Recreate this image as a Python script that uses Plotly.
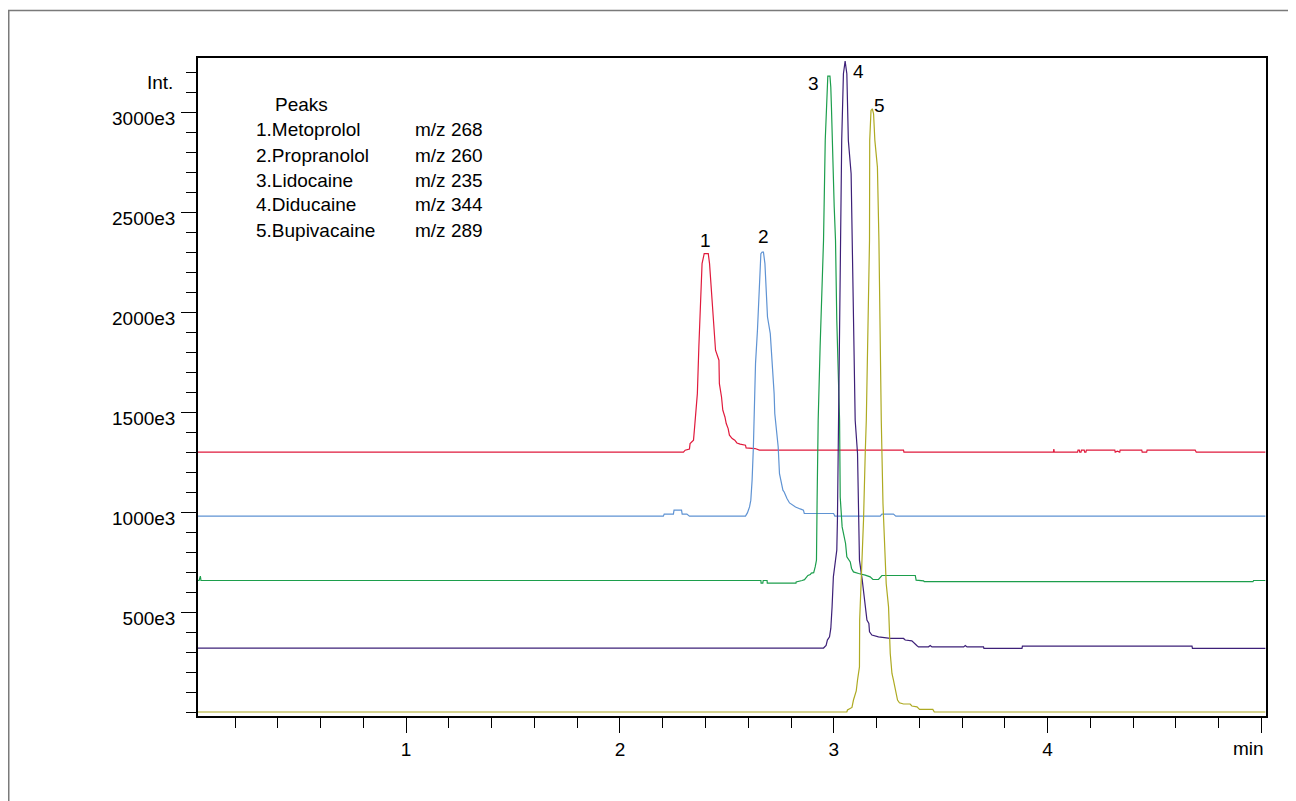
import plotly.graph_objects as go

# retention time (min) / intensity (in e3 counts)
red_t = [0.027, 2.297, 2.305, 2.325, 2.328, 2.344, 2.348, 2.362, 2.369, 2.378, 2.384, 2.394, 2.413, 2.419,
         2.425, 2.435, 2.447, 2.463, 2.465, 2.475, 2.481, 2.491, 2.497, 2.506, 2.512, 2.525, 2.537, 2.547,
         2.562, 2.587, 2.590, 2.632, 2.652, 3.326, 3.328, 4.027, 4.029, 4.031, 4.140, 4.142, 4.148, 4.150,
         4.156, 4.158, 4.171, 4.173, 4.179, 4.181, 4.314, 4.316, 4.326, 4.337, 4.339, 4.440, 4.442, 4.463,
         4.465, 4.690, 4.695, 5.018]
red_i = [1300, 1300, 1310, 1316, 1343, 1360, 1410, 1593, 1826, 2126, 2243, 2293, 2293, 2243,
         2160, 2010, 1810, 1760, 1643, 1576, 1510, 1476, 1443, 1418, 1385, 1368, 1360, 1346,
         1340, 1335, 1321, 1318, 1310, 1310, 1300, 1300, 1315, 1300, 1300, 1310, 1310, 1300,
         1300, 1310, 1310, 1300, 1300, 1310, 1310, 1300, 1305, 1300, 1310, 1310, 1300, 1300,
         1310, 1310, 1300, 1300]

blue_t = [0.027, 2.203, 2.207, 2.250, 2.253, 2.288, 2.291, 2.313, 2.325, 2.587, 2.596, 2.606, 2.612,
          2.618, 2.624, 2.634, 2.643, 2.652, 2.659, 2.665, 2.671, 2.678, 2.684, 2.690, 2.703, 2.712,
          2.721, 2.724, 2.734, 2.740, 2.746, 2.753, 2.762, 2.768, 2.774, 2.781, 2.793, 2.809, 2.821,
          2.843, 2.858, 2.862, 2.999, 3.005, 3.217, 3.225, 3.279, 3.290, 5.018]
blue_i = [980, 980, 990, 990, 1010, 1010, 990, 990, 980, 980, 996, 1026, 1060,
          1160, 1326, 1743, 1910, 2126, 2293, 2301, 2301, 2243, 2126, 1976, 1893, 1760,
          1593, 1493, 1393, 1326, 1193, 1160, 1110, 1101, 1083, 1068, 1046, 1035, 1026,
          1016, 1010, 993, 993, 980, 980, 990, 990, 980, 980]

green_t = [0.027, 0.032, 0.038, 0.041, 2.659, 2.660, 2.668, 2.670, 2.688, 2.689, 2.823, 2.824, 2.852,
           2.863, 2.879, 2.890, 2.895, 2.906, 2.913, 2.919, 2.922, 2.927, 2.936, 2.952, 2.960, 2.968,
           2.972, 2.982, 2.986, 2.989, 2.996, 3.002, 3.008, 3.014, 3.027, 3.030, 3.039, 3.055, 3.061,
           3.071, 3.077, 3.083, 3.092, 3.116, 3.133, 3.147, 3.170, 3.183, 3.209, 3.217, 3.225, 3.381,
           3.385, 3.420, 3.423, 4.960, 4.963, 5.018]
green_i = [658, 658, 680, 658, 658, 645, 645, 658, 658, 645, 645, 651, 658,
           662, 683, 688, 695, 697, 726, 760, 1060, 1460, 1826, 2360, 2860, 3026,
           3181, 3181, 3126, 3026, 2693, 2526, 2360, 1960, 1460, 1076, 926, 843, 776,
           760, 751, 718, 701, 693, 690, 685, 676, 663, 663, 676, 683, 683,
           660, 656, 652, 652, 658, 658]

purple_t = [0.027, 2.952, 2.964, 2.970, 2.980, 2.986, 2.992, 2.998, 3.008, 3.014, 3.017, 3.023, 3.032,
            3.037, 3.045, 3.053, 3.061, 3.068, 3.081, 3.086, 3.100, 3.111, 3.120, 3.133, 3.147, 3.155,
            3.164, 3.167, 3.178, 3.209, 3.264, 3.326, 3.334, 3.365, 3.388, 3.396, 3.443, 3.451, 3.459,
            3.607, 3.615, 3.623, 3.700, 3.702, 3.880, 3.882, 4.675, 4.677, 5.018]
purple_i = [320, 320, 333, 360, 376, 418, 526, 676, 760, 810, 960, 1460, 2360,
            2860, 3193, 3256, 3193, 2860, 2693, 2360, 1460, 1293, 760, 660, 526, 460,
            443, 401, 385, 376, 368, 368, 360, 356, 333, 326, 326, 333, 326,
            326, 333, 326, 326, 318, 318, 330, 330, 318, 318]

yellow_t = [0.027, 3.061, 3.064, 3.085, 3.092, 3.105, 3.111, 3.120, 3.121, 3.131, 3.139, 3.147, 3.152,
            3.167, 3.168, 3.174, 3.180, 3.186, 3.192, 3.204, 3.211, 3.222, 3.230, 3.245, 3.256, 3.264,
            3.272, 3.279, 3.287, 3.298, 3.307, 3.326, 3.357, 3.365, 3.389, 3.401, 3.463, 3.470, 5.018]
yellow_i = [0, 0, 10, 23, 60, 106, 160, 226, 460, 710, 960, 1293, 1460,
            2360, 2860, 3010, 3018, 2993, 2860, 2726, 2360, 1460, 1043, 643, 526, 293,
            193, 160, 110, 60, 46, 40, 40, 30, 26, 13, 13, 0, 0]

series = [
    (red_t, red_i, '#e01a3c'),
    (blue_t, blue_i, '#5f93d3'),
    (green_t, green_i, '#1c9e4c'),
    (purple_t, purple_i, '#3d2078'),
    (yellow_t, yellow_i, '#aeaa22'),
]

# peak numbers
peak_no = ['1', '2', '3', '4', '5']
peak_t = [2.398, 2.671, 2.905, 3.116, 3.214]
peak_i = [2360, 2380, 3143, 3202, 3035]

# peak table in the corner
names = ['1.Metoprolol', '2.Propranolol', '3.Lidocaine', '4.Diducaine', '5.Bupivacaine']
mz = ['m/z 268', 'm/z 260', 'm/z 235', 'm/z 344', 'm/z 289']
row_i = [2915, 2785, 2660, 2540, 2410]

y_ticks = [500, 1000, 1500, 2000, 2500, 3000]
x_ticks = [1, 2, 3, 4, 5]
x_labels = ['1', '2', '3', '4', '']

fnt = dict(family='Liberation Sans, Arial, sans-serif', size=19, color='black')

fig = go.Figure()
for t, i, c in series:
    fig.add_trace(go.Scatter(x=t, y=i, mode='lines', line=dict(color=c, width=1.2),
                             hoverinfo='skip', showlegend=False))

for n, t, i in zip(peak_no, peak_t, peak_i):
    fig.add_annotation(x=t, y=i, text=n, showarrow=False, font=fnt,
                       xanchor='center', yanchor='middle')

fig.add_annotation(x=0.378, y=3040, text='Peaks', showarrow=False, font=fnt,
                   xanchor='left', yanchor='middle')
for n, m, i in zip(names, mz, row_i):
    fig.add_annotation(x=0.289, y=i, text=n, showarrow=False, font=fnt,
                       xanchor='left', yanchor='middle')
    fig.add_annotation(x=1.033, y=i, text=m, showarrow=False, font=fnt,
                       xanchor='left', yanchor='middle')

# "Int." above the y labels, "min" under the last x tick
fig.add_annotation(xref='paper', x=-0.0215, y=3150, text='Int.', showarrow=False, font=fnt,
                   xanchor='right', yanchor='middle')
fig.add_annotation(x=5.021, yref='paper', y=-0.050, text='min', showarrow=False, font=fnt,
                   xanchor='right', yanchor='middle')

# grey outer frame of the report page
fig.add_shape(type='rect', xref='paper', yref='paper', x0=-0.1772, x1=1.3, y0=-0.3, y1=1.0722,
              line=dict(color='#7a7a7a', width=1.5), layer='below')

fig.update_xaxes(range=[0.027, 5.021], showline=True, linecolor='black', linewidth=1.5, mirror=True,
                 showgrid=False, zeroline=False, tickmode='array', tickvals=x_ticks, ticktext=x_labels,
                 ticks='outside', ticklen=15, tickwidth=1.2, tickcolor='black', tickfont=fnt,
                 minor=dict(tickmode='linear', tick0=0, dtick=0.2, ticks='outside', ticklen=10,
                            tickwidth=1.2, tickcolor='black', showgrid=False))
fig.update_yaxes(range=[-20, 3272], showline=True, linecolor='black', linewidth=1.5, mirror=True,
                 showgrid=False, zeroline=False, tickmode='array', tickvals=y_ticks,
                 ticktext=[str(v) + 'e3' for v in y_ticks],
                 ticks='outside', ticklen=15, tickwidth=1.2, tickcolor='black', tickfont=fnt,
                 ticklabelshift=6, ticklabelstandoff=2,
                 minor=dict(tickmode='linear', tick0=0, dtick=100, ticks='outside', ticklen=10,
                            tickwidth=1.2, tickcolor='black', showgrid=False))

# page body adds 8px, so the figure is 8px smaller and the margins shifted
fig.update_layout(width=1288, height=793, margin=dict(l=190, r=30, t=50, b=85),
                  plot_bgcolor='white', paper_bgcolor='white', showlegend=False, font=fnt)

fig.write_html("out.html")
